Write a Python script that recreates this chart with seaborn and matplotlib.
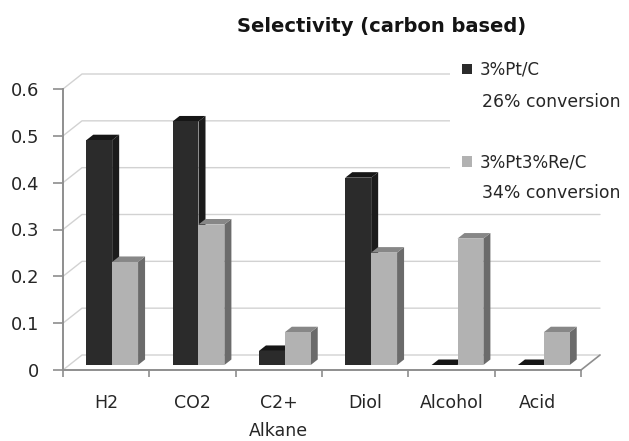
import numpy as np
import pandas as pd
import matplotlib
matplotlib.use("Agg")
import matplotlib.pyplot as plt
from matplotlib.patches import Polygon, Rectangle
import seaborn as sns

# ---- data ----
categories = ["H2", "CO2", "C2+\nAlkane", "Diol", "Alcohol", "Acid"]
pt_c = [0.48, 0.52, 0.03, 0.40, 0.0, 0.0]
pt_re_c = [0.22, 0.30, 0.07, 0.24, 0.27, 0.07]
series_names = ["3%Pt/C", "3%Pt3%Re/C"]
conversions = ["26% conversion", "34% conversion"]
y_ticks = [0, 0.1, 0.2, 0.3, 0.4, 0.5, 0.6]
y_tick_labels = ["0", "0.1", "0.2", "0.3", "0.4", "0.5", "0.6"]
title = "Selectivity (carbon based)"

df = pd.DataFrame({
    "category": categories * 2,
    "selectivity": pt_c + pt_re_c,
    "catalyst": [series_names[0]] * len(categories) + [series_names[1]] * len(categories),
})

sns.set_theme(style="white")
plt.rcParams["font.family"] = ["DejaVu Sans"]

W, H = 629, 441
fig = plt.figure(figsize=(W / 100, H / 100), dpi=100)
fig.patch.set_facecolor("white")

# front plane of the plotting box, in pixels
left, right, top, bottom = 63, 581, 89, 370
ax = fig.add_axes([left / W, 1 - bottom / H, (right - left) / W, (bottom - top) / H])
ax.set_facecolor("none")

front_col = {series_names[0]: "#2b2b2b", series_names[1]: "#b2b2b2"}
side_col = {series_names[0]: "#1b1b1b", series_names[1]: "#6b6b6b"}
top_col = {series_names[0]: "#161616", series_names[1]: "#878787"}

sns.barplot(data=df, x="category", y="selectivity", hue="catalyst",
            hue_order=series_names, palette=front_col, width=0.6,
            saturation=1, ax=ax, legend=False, linewidth=0)

xmin, xmax = -0.5, len(categories) - 0.5
ax.set_xlim(xmin, xmax)
ax.set_ylim(0, 0.6)

# pixel -> data unit factors
px_x = (xmax - xmin) / (right - left)
px_y = 0.6 / (bottom - top)

# depth of the back wall and of the bars
wdx, wdy = 19 * px_x, 15 * px_y
bdx, bdy = 6 * px_x, 5 * px_y
ddx, ddy = 7 * px_x, 5.5 * px_y

grid_col = "#d2d2d2"
axis_col = "#8e8e8e"

# back wall gridlines and left-wall diagonals
for yv in y_ticks:
    ax.plot([xmin, xmin + wdx, xmax + wdx], [yv, yv + wdy, yv + wdy],
            color=grid_col, lw=1.0, clip_on=False, zorder=1)
# right edge of the floor
ax.plot([xmax, xmax + wdx], [0, wdy], color=axis_col, lw=1.2,
        clip_on=False, zorder=1)

# extrude every bar: shift front face into the box, add side and top faces
for i, (container, name) in enumerate(zip(ax.containers, series_names)):
    z = 2 + i
    for rect in container.patches:
        x0 = rect.get_x() + bdx
        w = rect.get_width()
        h = rect.get_height()
        rect.set_x(x0)
        rect.set_y(bdy)
        rect.set_zorder(z + 0.2)
        rect.set_clip_on(False)
        side = Polygon([(x0 + w, bdy), (x0 + w + ddx, bdy + ddy),
                        (x0 + w + ddx, bdy + h + ddy), (x0 + w, bdy + h)],
                       closed=True, facecolor=side_col[name], edgecolor="none",
                       zorder=z, clip_on=False)
        topf = Polygon([(x0, bdy + h), (x0 + ddx, bdy + h + ddy),
                        (x0 + w + ddx, bdy + h + ddy), (x0 + w, bdy + h)],
                       closed=True, facecolor=top_col[name], edgecolor="none",
                       zorder=z + 0.1, clip_on=False)
        ax.add_patch(side)
        ax.add_patch(topf)

# axes styling
for s in ["top", "right"]:
    ax.spines[s].set_visible(False)
for s in ["left", "bottom"]:
    ax.spines[s].set_color(axis_col)
    ax.spines[s].set_linewidth(1.4)
    ax.spines[s].set_zorder(1.5)

text_col = "#262626"
ax.set_xlabel("")
ax.set_ylabel("")
ax.set_yticks(y_ticks, y_tick_labels)
ax.tick_params(axis="y", length=7, width=1.2, color=axis_col, direction="out",
               pad=10, labelsize=13, labelcolor=text_col, left=True)
ax.set_xticks(np.arange(len(categories)), categories)
ax.set_xticks(np.arange(xmin, xmax + 0.01, 1), minor=True)
ax.tick_params(axis="x", which="major", length=0, pad=17, labelsize=12.5,
               labelcolor=text_col)
ax.tick_params(axis="x", which="minor", length=5, width=1.2, color=axis_col,
               direction="out", bottom=True)
for t in ax.get_xticklabels():
    t.set_linespacing(1.75)

# title
fig.text(382 / W, 1 - 26 / H, title, ha="center", va="center",
         fontsize=14, fontweight="bold", color="#141414")

# legend area: white panel over the wall, keys and conversion notes
fig.add_artist(Rectangle((450 / W, 1 - 207 / H), (W - 450) / W, (207 - 55) / H,
                         transform=fig.transFigure, facecolor="white",
                         edgecolor="none", zorder=1))
handles = [c.patches[0] for c in ax.containers]
leg = fig.legend(handles=handles, labels=series_names, loc="upper left",
                 bbox_to_anchor=(462 / W, 1 - 61 / H), frameon=False,
                 fontsize=12, handlelength=0.6, handleheight=0.6,
                 handletextpad=0.45, labelspacing=4.45, borderpad=0,
                 borderaxespad=0)
for t in leg.get_texts():
    t.set_color(text_col)
for txt, yb in zip(conversions, [107, 198]):
    fig.text(482 / W, 1 - yb / H, txt, ha="left", va="baseline",
             fontsize=12.4, color=text_col, zorder=6)

fig.savefig("out.png", dpi=100)
